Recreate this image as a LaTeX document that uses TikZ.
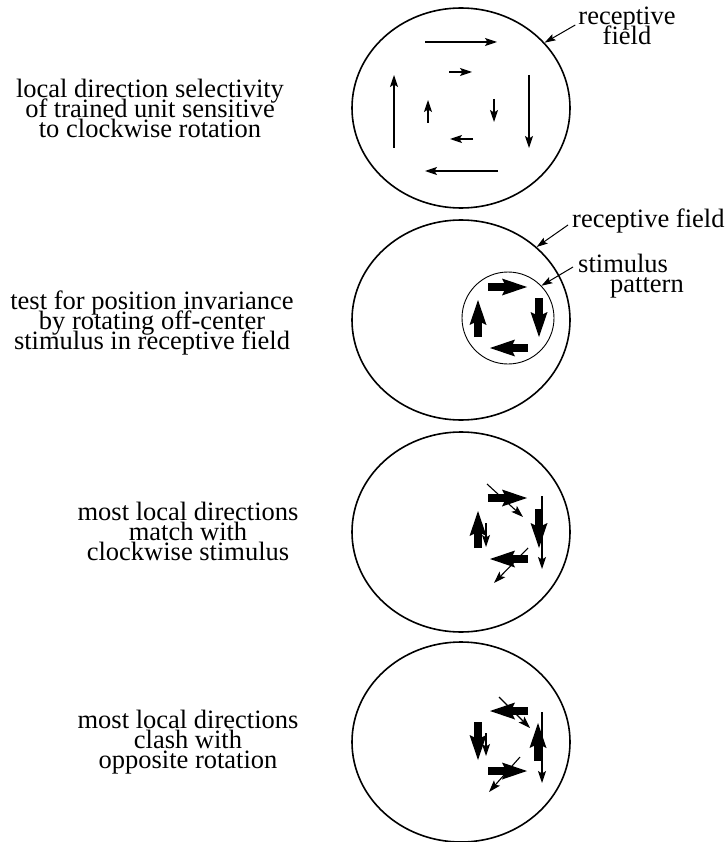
\documentclass[tikz,border=0pt]{standalone}
\usepackage{fontspec}
\setmainfont{Liberation Serif}
\usetikzlibrary{arrows.meta,shapes.geometric}

\newcommand{\lblfont}{\fontsize{26.5}{20}\selectfont\lineskiplimit=-50pt\relax}

\tikzset{
  rf/.style={draw, ellipse, line width=1.6pt, minimum width=218pt, minimum height=200pt, inner sep=0pt},
  stim/.style={draw, circle, line width=0.9pt, minimum size=92pt, inner sep=0pt},
  lbl/.style={inner sep=0pt, align=center, font=\lblfont},
  dirarrow/.style={line width=1.1pt, -{Stealth[length=12pt,width=8pt,inset=2.5pt]}},
  stimarrow/.style={line width=8pt, -{Stealth[length=25pt,width=17pt,inset=4pt,line width=0pt]}},
  pointer/.style={line width=1pt, -{Stealth[length=11pt,width=7pt,inset=2pt]}},
}

\begin{document}
\begin{tikzpicture}[x=1pt,y=-1pt]
  \useasboundingbox (0,0) rectangle (727,842);

  % Receptive fields
  \node[rf] (rfA) at (461,108) {};
  \node[rf] (rfB) at (461,320) {};
  \node[rf] (rfC) at (461,532) {};
  \node[rf] (rfD) at (461,742) {};

  % Local directions of the trained unit
  \draw[dirarrow] (425,42) -- (497,42);
  \draw[dirarrow] (529,75) -- (529,148);
  \draw[dirarrow] (498,171) -- (425,171);
  \draw[dirarrow] (394,148) -- (394,75);
  \draw[dirarrow] (449,72) -- (472,72);
  \draw[dirarrow] (494,99) -- (494,122);
  \draw[dirarrow] (473,139) -- (450,139);
  \draw[dirarrow] (428,123) -- (428,100);

  % Stimulus pattern
  \node[stim] (stimB) at (508,318) {};

  % Clockwise stimulus
  \foreach \cy in {318,529}
  {
    \begin{scope}[shift={(508,\cy)}]
      \draw[stimarrow] (-20,-31) -- (19,-31);
      \draw[stimarrow] (31,-20) -- (31,19);
      \draw[stimarrow] (20,30) -- (-18,30);
      \draw[stimarrow] (-30,19) -- (-30,-18);
    \end{scope}
  }

  % Opposite rotation
  \begin{scope}[shift={(508,741)}]
    \draw[stimarrow] (20,-30) -- (-18,-30);
    \draw[stimarrow] (30,20) -- (30,-18);
    \draw[stimarrow] (-20,30) -- (19,30);
    \draw[stimarrow] (-30,-19) -- (-30,19);
  \end{scope}

  % Local directions at the stimulus
  \draw[dirarrow] (487,484) -- (523,517);
  \draw[dirarrow] (542,496) -- (542,569);
  \draw[dirarrow] (486,523) -- (486,547);
  \draw[dirarrow] (528,548) -- (494,583);

  \draw[dirarrow] (499,697) -- (530,728);
  \draw[dirarrow] (542,712) -- (542,783);
  \draw[dirarrow] (486,733) -- (486,756);
  \draw[dirarrow] (520,757) -- (489,792);

  % Labels (base = last line)
  \node[lbl, anchor=base] (txtA) at (150,138) {local direction selectivity\\of trained unit sensitive\\to clockwise rotation};
  \node[lbl, anchor=base] (txtB) at (152,349) {test for position invariance\\by rotating off-center\\stimulus in receptive field};
  \node[lbl, anchor=base] (txtC) at (188,560) {most local directions\\match with\\clockwise stimulus};
  \node[lbl, anchor=base] (txtD) at (188,768) {most local directions\\clash with\\opposite rotation};

  \node[lbl, anchor=base] (rfAlbl) at (627,45) {receptive\\field};
  \node[lbl, anchor=base west] (rfBlbl) at (572,227) {receptive field};
  \node[lbl, align=left, anchor=base west] (stimlbl) at (578,292) {stimulus\\\hspace*{32pt}pattern};

  % Pointers
  \draw[pointer] ([xshift=-3pt,yshift=20pt]rfAlbl.base west) -- (rfA.38);
  \draw[pointer] ([xshift=-4pt,yshift=2pt]rfBlbl.base west) -- (rfB.44);
  \draw[pointer] ([xshift=-5pt,yshift=25pt]stimlbl.base west) -- (stimB.44);
\end{tikzpicture}
\end{document}
